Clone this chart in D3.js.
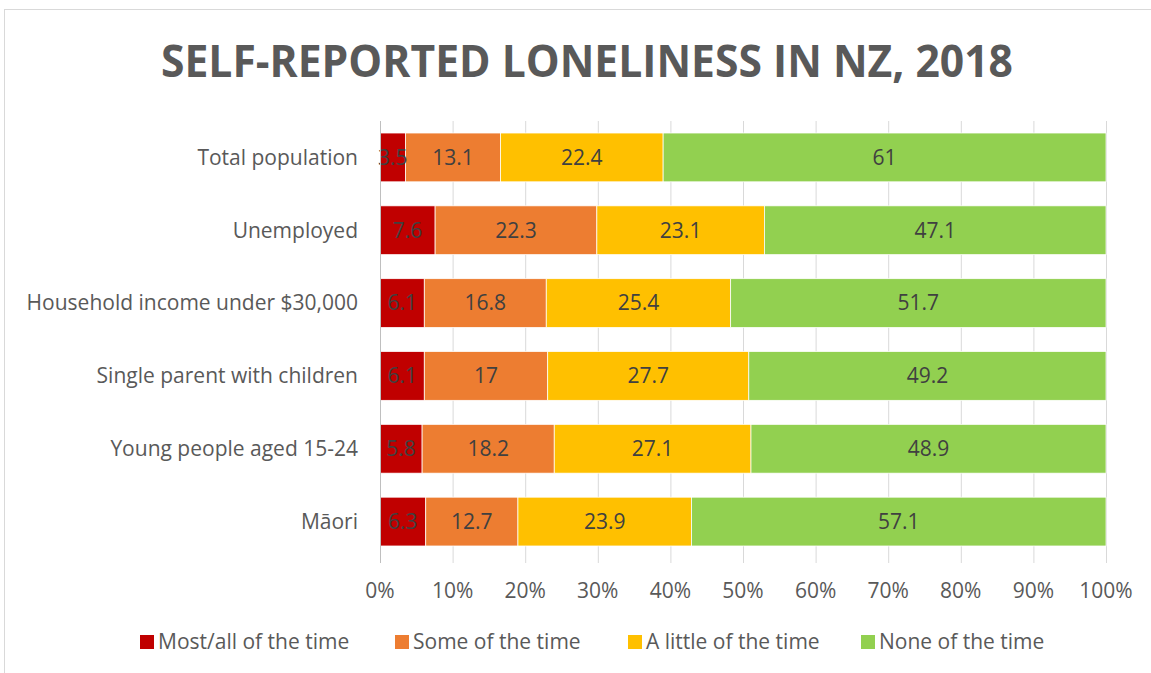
<!DOCTYPE html>
<html>
<head>
<meta charset="utf-8">
<script src="https://cdn.jsdelivr.net/npm/d3@7"></script>
<style>
  body { margin: 0; background: #fff; }
  text { font-family: "Open Sans", "Noto Sans", sans-serif; }
</style>
</head>
<body>
<svg id="chart" width="1151" height="673"></svg>
<script>
const categories = ["Total population", "Unemployed", "Household income under $30,000",
  "Single parent with children", "Young people aged 15-24", "Māori"];
const seriesNames = ["Most/all of the time", "Some of the time", "A little of the time", "None of the time"];
const mostAll = [3.5, 7.6, 6.1, 6.1, 5.8, 6.3];
const someTime = [13.1, 22.3, 16.8, 17, 18.2, 12.7];
const littleTime = [22.4, 23.1, 25.4, 27.7, 27.1, 23.9];
const noneTime = [61, 47.1, 51.7, 49.2, 48.9, 57.1];
const tickValues = [0, 0.1, 0.2, 0.3, 0.4, 0.5, 0.6, 0.7, 0.8, 0.9, 1];

const colors = ["#c00000", "#ed7d31", "#ffc000", "#92d050"];

const svg = d3.select("#chart");
const W = 1151, H = 673;
const plotLeft = 380, plotRight = 1106, plotTop = 121, plotBottom = 558;

// chart border
svg.append("rect")
  .attr("x", 4.5).attr("y", 9.5)
  .attr("width", W + 10).attr("height", H + 10)
  .attr("fill", "none").attr("stroke", "#d9d9d9");

svg.append("text")
  .attr("x", 587).attr("y", 77)
  .attr("text-anchor", "middle")
  .attr("font-size", 44)
  .attr("font-weight", 700)
  .attr("fill", "#595959")
  .attr("textLength", 852)
  .attr("lengthAdjust", "spacingAndGlyphs")
  .text("SELF-REPORTED LONELINESS IN NZ, 2018");

const rows = categories.map((c, i) => {
  const vals = [mostAll[i], someTime[i], littleTime[i], noneTime[i]];
  const sum = d3.sum(vals);
  let acc = 0;
  return vals.map((v, k) => {
    const seg = { cat: c, k: k, v: v, x0: acc / sum, x1: (acc + v) / sum };
    acc += v;
    return seg;
  });
});

const x = d3.scaleLinear().domain([0, 1]).range([plotLeft, plotRight]);
const y = d3.scaleBand().domain(categories).range([plotTop, plotBottom]).paddingInner(0.33).paddingOuter(0.165);

// gridlines
svg.append("g")
  .selectAll("line")
  .data(tickValues)
  .enter()
  .append("line")
  .attr("x1", d => x(d) + 0.5).attr("x2", d => x(d) + 0.5)
  .attr("y1", plotTop).attr("y2", plotBottom + 5)
  .attr("stroke", "#d9d9d9").attr("stroke-width", 1);

// bars
const barG = svg.append("g");
rows.forEach(r => {
  barG.selectAll(null)
    .data(r)
    .enter()
    .append("rect")
    .attr("x", d => x(d.x0))
    .attr("y", d => y(d.cat))
    .attr("width", d => x(d.x1) - x(d.x0))
    .attr("height", y.bandwidth())
    .attr("fill", d => colors[d.k])
    .attr("stroke", "#fff")
    .attr("stroke-width", 0.75);

  barG.selectAll(null)
    .data(r)
    .enter()
    .append("text")
    .attr("x", d => (x(d.x0) + x(d.x1)) / 2)
    .attr("y", d => y(d.cat) + y.bandwidth() / 2)
    .attr("dy", "0.35em")
    .attr("text-anchor", "middle")
    .attr("font-size", 21)
    .attr("fill", "#404040")
    .text(d => d.v);
});

// vertical axis line
svg.append("line")
  .attr("x1", plotLeft + 0.5).attr("x2", plotLeft + 0.5)
  .attr("y1", plotTop).attr("y2", plotBottom + 5)
  .attr("stroke", "#bfbfbf");

// category labels
svg.append("g")
  .selectAll("text")
  .data(categories)
  .enter()
  .append("text")
  .attr("x", plotLeft - 22)
  .attr("y", d => y(d) + y.bandwidth() / 2)
  .attr("dy", "0.35em")
  .attr("text-anchor", "end")
  .attr("font-size", 21)
  .attr("fill", "#595959")
  .text(d => d);

// x tick labels
svg.append("g")
  .selectAll("text")
  .data(tickValues)
  .enter()
  .append("text")
  .attr("x", d => x(d))
  .attr("y", 591)
  .attr("dy", "0.35em")
  .attr("text-anchor", "middle")
  .attr("font-size", 21)
  .attr("fill", "#595959")
  .text(d3.format(".0%"));

// legend
const legendX = [140, 395, 628, 861];
const leg = svg.append("g")
  .selectAll("g")
  .data(seriesNames)
  .enter()
  .append("g")
  .attr("transform", (d, i) => `translate(${legendX[i]},642)`);
leg.append("rect")
  .attr("x", 0).attr("y", -7)
  .attr("width", 14).attr("height", 14)
  .attr("fill", (d, i) => colors[i]);
leg.append("text")
  .attr("x", 18).attr("y", 0)
  .attr("dy", "0.35em")
  .attr("font-size", 21)
  .attr("fill", "#595959")
  .text(d => d);
</script>
</body>
</html>
